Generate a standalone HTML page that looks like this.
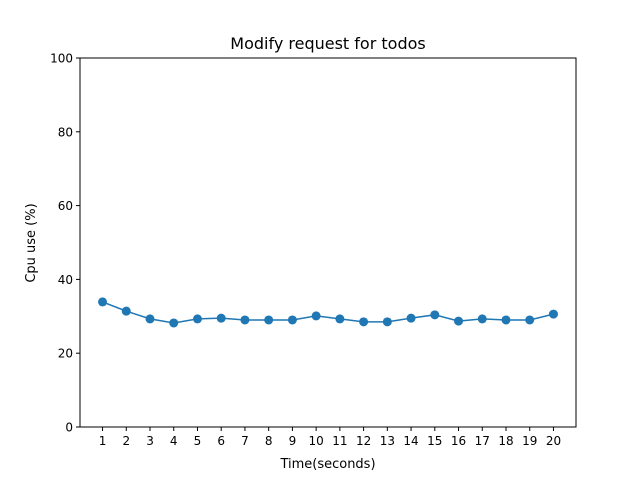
<!DOCTYPE html>
<html><head><meta charset="utf-8"><style>
body{margin:0;background:#fff;width:640px;height:480px;overflow:hidden}
text{font-family:"DejaVu Sans","Liberation Sans",sans-serif}
</style></head><body>
<svg id="chart" width="640" height="480">
<rect width="640" height="480" fill="#fff"/>
<text x="328" y="49" font-size="16" text-anchor="middle">Modify request for todos</text>
<text x="328" y="468" font-size="13" text-anchor="middle">Time(seconds)</text>
<text x="35" y="243" font-size="13" text-anchor="middle" transform="rotate(-90 35 243)">Cpu use (%)</text>
<g id="ticks"></g>
<g id="series"></g>
<rect x="80" y="58" width="496" height="369" fill="none" stroke="#000" stroke-width="1"/>
</svg>
<script>
const categories=[1,2,3,4,5,6,7,8,9,10,11,12,13,14,15,16,17,18,19,20];
const cpuValues=[33.9,31.4,29.3,28.2,29.3,29.5,29.0,29.0,29.0,30.1,29.3,28.5,28.5,29.5,30.4,28.7,29.3,29.0,29.0,30.6];
const yTicks=[0,20,40,60,80,100];
const L=80,R=576,T=58,B=427,xmin=0.05,xmax=20.95,ymin=0,ymax=100;
const sx=v=>L+(v-xmin)/(xmax-xmin)*(R-L);
const sy=v=>B-(v-ymin)/(ymax-ymin)*(B-T);
const NS="http://www.w3.org/2000/svg";
const tg=document.getElementById('ticks'),sg=document.getElementById('series');
function mk(tag,attrs,parent){const e=document.createElementNS(NS,tag);for(const k in attrs)e.setAttribute(k,attrs[k]);parent.appendChild(e);return e;}
categories.forEach(c=>{
 const l=mk('line',{x1:sx(c),x2:sx(c),y1:B,y2:B+4,stroke:'#000'},tg);
 
 
 const t=mk('text',{x:sx(c),y:B+18,'font-size':12,'text-anchor':'middle'},tg);
 t.textContent=c;
 
 
});
yTicks.forEach(v=>{
 const l=mk('line',{x1:L-4,x2:L,y1:sy(v),y2:sy(v),stroke:'#000'},tg);
 
 
 const t=mk('text',{x:L-7,y:sy(v)+4.5,'font-size':12,'text-anchor':'end'},tg);
 t.textContent=v;
 
 
});
const pts=categories.map((c,i)=>sx(c)+','+sy(cpuValues[i])).join(' ');
const pl=mk('polyline',{points:pts,fill:'none',stroke:'#1f77b4','stroke-width':1.5},sg);


categories.forEach((c,i)=>{
 const p=mk('circle',{cx:sx(c),cy:sy(cpuValues[i]),r:4.5,fill:'#1f77b4'},sg);
 
 
});
</script>
</body></html>
